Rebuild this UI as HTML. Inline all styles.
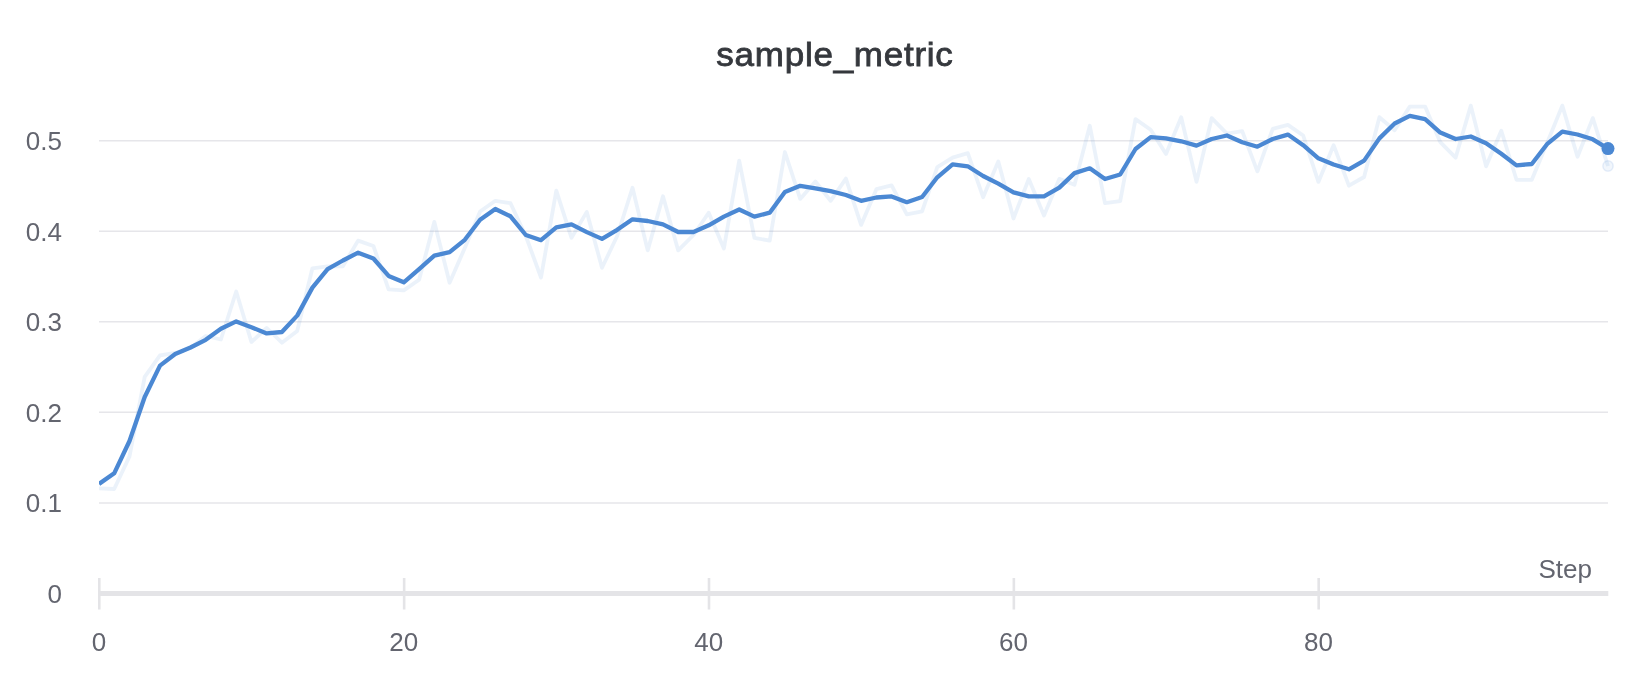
<!DOCTYPE html>
<html><head><meta charset="utf-8"><style>
html,body{margin:0;padding:0;background:#fff;}
body{width:1642px;height:674px;overflow:hidden;}
svg{display:block;}
#w{will-change:transform;width:1642px;height:674px;background:#fff;}
.ax{font-family:"Liberation Sans",sans-serif;font-size:26px;fill:#63656f;}
.ti{font-family:"Liberation Sans",sans-serif;font-size:35px;fill:#35383d;stroke:#35383d;stroke-width:0.85px;letter-spacing:0.75px;}
</style></head><body><div id="w">
<svg width="1642" height="674" viewBox="0 0 1642 674">
<rect width="1642" height="674" fill="#fff"/>
<text x="835" y="66" text-anchor="middle" class="ti" transform="translate(0,66) scale(1,0.96) translate(0,-66)">sample_metric</text>
<line x1="99" x2="1608" y1="140.65" y2="140.65" stroke="#e6e6ea" stroke-width="1.5"/>
<line x1="99" x2="1608" y1="231.22" y2="231.22" stroke="#e6e6ea" stroke-width="1.5"/>
<line x1="99" x2="1608" y1="321.79" y2="321.79" stroke="#e6e6ea" stroke-width="1.5"/>
<line x1="99" x2="1608" y1="412.36" y2="412.36" stroke="#e6e6ea" stroke-width="1.5"/>
<line x1="99" x2="1608" y1="502.93" y2="502.93" stroke="#e6e6ea" stroke-width="1.5"/>
<rect x="98.00" y="578" width="2.6" height="31.5" fill="#e4e4e7"/>
<rect x="402.85" y="578" width="2.6" height="31.5" fill="#e4e4e7"/>
<rect x="707.70" y="578" width="2.6" height="31.5" fill="#e4e4e7"/>
<rect x="1012.55" y="578" width="2.6" height="31.5" fill="#e4e4e7"/>
<rect x="1317.39" y="578" width="2.6" height="31.5" fill="#e4e4e7"/>
<rect x="98" y="591" width="1510.3" height="5" fill="#e4e4e7"/>
<text x="62" y="150.1" text-anchor="end" class="ax">0.5</text>
<text x="62" y="240.6" text-anchor="end" class="ax">0.4</text>
<text x="62" y="331.2" text-anchor="end" class="ax">0.3</text>
<text x="62" y="421.8" text-anchor="end" class="ax">0.2</text>
<text x="62" y="512.3" text-anchor="end" class="ax">0.1</text>
<text x="62" y="602.9" text-anchor="end" class="ax">0</text>
<text x="99.0" y="651.3" text-anchor="middle" class="ax">0</text>
<text x="403.8" y="651.3" text-anchor="middle" class="ax">20</text>
<text x="708.7" y="651.3" text-anchor="middle" class="ax">40</text>
<text x="1013.5" y="651.3" text-anchor="middle" class="ax">60</text>
<text x="1318.4" y="651.3" text-anchor="middle" class="ax">80</text>
<text x="1592" y="578" text-anchor="end" class="ax">Step</text>
<defs><clipPath id="cp"><rect x="99" y="0" width="1543" height="674"/></clipPath></defs>
<g clip-path="url(#cp)">
<path d="M99.0,488.3 L114.2,489.0 L129.5,456.4 L144.7,376.8 L160.0,355.4 L175.2,353.0 L190.5,348.0 L205.7,336.0 L220.9,339.5 L236.2,291.5 L251.4,342.0 L266.7,328.0 L281.9,342.7 L297.2,331.0 L312.4,268.3 L327.6,266.3 L342.9,266.3 L358.1,240.6 L373.4,246.0 L388.6,289.4 L403.8,290.4 L419.1,279.8 L434.3,221.9 L449.6,282.7 L464.8,247.9 L480.1,211.5 L495.3,200.8 L510.5,203.2 L525.8,236.0 L541.0,277.5 L556.3,190.6 L571.5,237.9 L586.8,211.9 L602.0,267.8 L617.2,236.0 L632.5,187.7 L647.7,250.4 L663.0,196.3 L678.2,250.4 L693.5,235.0 L708.7,212.7 L723.9,248.5 L739.2,160.6 L754.4,237.8 L769.7,240.7 L784.9,152.0 L800.2,198.9 L815.4,181.5 L830.6,200.8 L845.9,178.6 L861.1,224.9 L876.4,189.2 L891.6,185.4 L906.8,214.3 L922.1,211.4 L937.3,167.1 L952.6,157.6 L967.8,153.2 L983.1,197.2 L998.3,161.5 L1013.5,218.5 L1028.8,178.9 L1044.0,215.6 L1059.3,178.9 L1074.5,184.7 L1089.8,125.8 L1105.0,203.1 L1120.2,201.2 L1135.5,119.1 L1150.7,129.7 L1166.0,153.9 L1181.2,117.2 L1196.5,181.9 L1211.7,118.2 L1226.9,133.6 L1242.2,131.2 L1257.4,171.3 L1272.7,128.8 L1287.9,124.9 L1303.2,135.5 L1318.4,181.9 L1333.6,145.2 L1348.9,185.7 L1364.1,177.0 L1379.4,117.2 L1394.6,130.2 L1409.8,106.6 L1425.1,106.6 L1440.3,142.2 L1455.6,157.7 L1470.8,105.6 L1486.1,166.3 L1501.3,130.7 L1516.5,179.8 L1531.8,179.8 L1547.0,143.2 L1562.3,105.6 L1577.5,156.7 L1592.8,118.1 L1608.0,166.0" fill="none" stroke="#4a86d4" stroke-opacity="0.11" stroke-width="3.8" stroke-linejoin="round"/>
<path d="M99.0,484.0 L114.2,473.3 L129.5,441.0 L144.7,397.0 L160.0,365.6 L175.2,354.0 L190.5,347.5 L205.7,339.8 L220.9,328.8 L236.2,321.4 L251.4,327.2 L266.7,333.4 L281.9,332.0 L297.2,315.6 L312.4,287.6 L327.6,269.2 L342.9,260.5 L358.1,252.7 L373.4,258.5 L388.6,275.9 L403.8,282.3 L419.1,269.2 L434.3,255.6 L449.6,252.2 L464.8,239.8 L480.1,219.8 L495.3,209.0 L510.5,216.3 L525.8,235.0 L541.0,240.2 L556.3,227.3 L571.5,224.4 L586.8,232.1 L602.0,238.9 L617.2,229.8 L632.5,219.3 L647.7,221.0 L663.0,224.3 L678.2,232.0 L693.5,232.0 L708.7,225.3 L723.9,216.6 L739.2,209.5 L754.4,216.6 L769.7,212.7 L784.9,192.0 L800.2,185.8 L815.4,188.3 L830.6,191.2 L845.9,195.0 L861.1,200.8 L876.4,197.5 L891.6,196.4 L906.8,202.2 L922.1,197.0 L937.3,177.3 L952.6,164.4 L967.8,166.3 L983.1,176.0 L998.3,183.7 L1013.5,192.4 L1028.8,196.3 L1044.0,196.3 L1059.3,187.6 L1074.5,173.1 L1089.8,168.3 L1105.0,179.0 L1120.2,174.5 L1135.5,149.0 L1150.7,137.1 L1166.0,138.4 L1181.2,141.3 L1196.5,145.6 L1211.7,139.0 L1226.9,135.5 L1242.2,142.3 L1257.4,146.7 L1272.7,139.0 L1287.9,134.6 L1303.2,145.2 L1318.4,158.3 L1333.6,164.5 L1348.9,169.3 L1364.1,160.6 L1379.4,138.4 L1394.6,123.5 L1409.8,115.8 L1425.1,119.1 L1440.3,132.6 L1455.6,139.0 L1470.8,136.5 L1486.1,143.2 L1501.3,153.8 L1516.5,165.4 L1531.8,164.0 L1547.0,144.2 L1562.3,131.6 L1577.5,134.5 L1592.8,139.3 L1608.0,148.6" fill="none" stroke="#4b88d3" stroke-width="4.3" stroke-linejoin="round"/>
</g>
<circle cx="1608.0" cy="166.0" r="5.2" fill="#4a86d4" fill-opacity="0.08" stroke="#4a86d4" stroke-opacity="0.12" stroke-width="1.5"/>
<circle cx="1608.0" cy="148.6" r="6.5" fill="#4b88d3"/>
</svg></div>
</body></html>
